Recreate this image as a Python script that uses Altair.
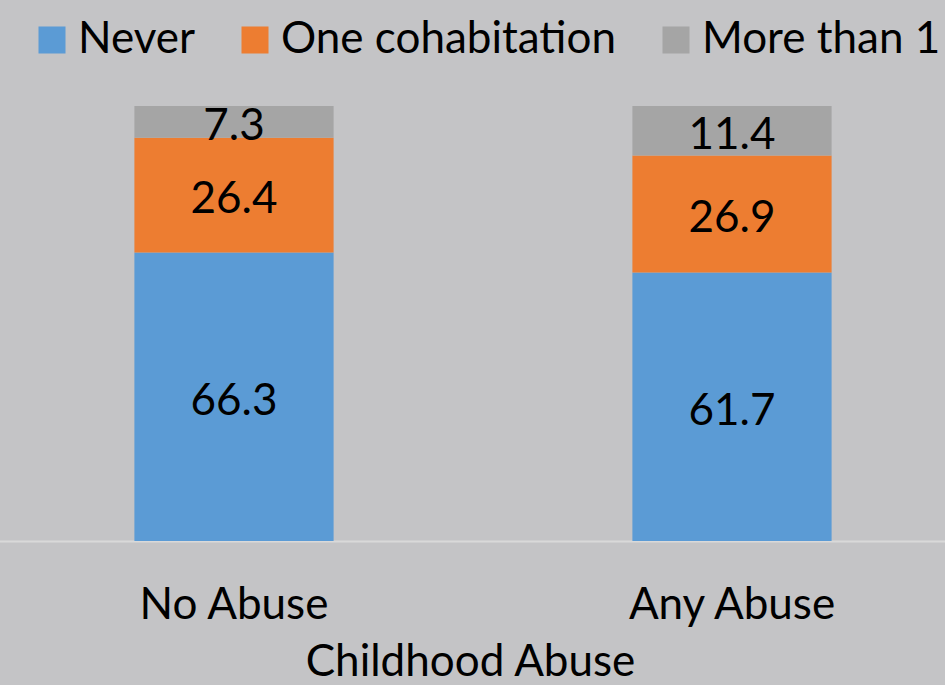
import altair as alt
import pandas as pd

groups = ["No Abuse", "Any Abuse"]
categories = ["Never", "One cohabitation", "More than 1"]
never = [66.3, 61.7]
one_cohab = [26.4, 26.9]
more_than_1 = [7.3, 11.4]
colors = ["#5b9bd5", "#ed7d31", "#a5a5a5"]

rows = []
for i, g in enumerate(groups):
    for j, (c, vals) in enumerate(zip(categories, [never, one_cohab, more_than_1])):
        rows.append({"group": g, "category": c, "value": vals[i], "order": j})
df = pd.DataFrame(rows)

FONT = "Lato"
FS = 44

base = alt.Chart(df).transform_stack(
    stack="value", groupby=["group"], as_=["y0", "y1"], sort=[alt.SortField("order")]
).transform_calculate(mid="(datum.y0 + datum.y1) / 2")

xenc = alt.X(
    "group:N",
    sort=groups,
    scale=alt.Scale(range=[-15, 981], paddingInner=0.6, paddingOuter=0.3),
    axis=alt.Axis(
        title="Childhood Abuse",
        labelFont=FONT, labelFontSize=FS, labelColor="black", labelPadding=42,
        labelAngle=0, labelLimit=0,
        titleFont=FONT, titleFontSize=FS, titleColor="black", titleFontWeight="normal",
        titlePadding=13, titleX=470,
        ticks=False, domainColor="#d9d9d9", domainWidth=2,
    ),
)

bars = base.mark_bar().encode(
    x=xenc,
    y=alt.Y("y0:Q", scale=alt.Scale(domain=[0, 100]), axis=None),
    y2="y1:Q",
    color=alt.Color(
        "category:N",
        sort=categories,
        scale=alt.Scale(domain=categories, range=colors),
        legend=alt.Legend(
            title=None, orient="none", direction="horizontal",
            legendX=30, legendY=-88,
            symbolType="square", symbolSize=729, symbolStrokeWidth=0,
            labelFont=FONT, labelFontSize=FS, labelColor="black",
            labelOffset=4, columnPadding=38, labelLimit=0,
        ),
    ),
    order=alt.Order("order:Q"),
)

labels = base.mark_text(font=FONT, fontSize=FS, color="black", baseline="middle", dy=5).encode(
    x=alt.X("group:N", sort=groups),
    y=alt.Y("mid:Q"),
    text=alt.Text("value:Q", format=".1f"),
)

chart = alt.layer(bars, labels).properties(
    width=945, height=435,
    background="#c4c4c6",
    autosize=alt.AutoSizeParams(type="none"),
    padding={"left": 0, "right": 0, "top": 106, "bottom": 144},
).configure_view(stroke=None)

chart.save("out.html", embed_options={"renderer": "svg", "actions": False})
